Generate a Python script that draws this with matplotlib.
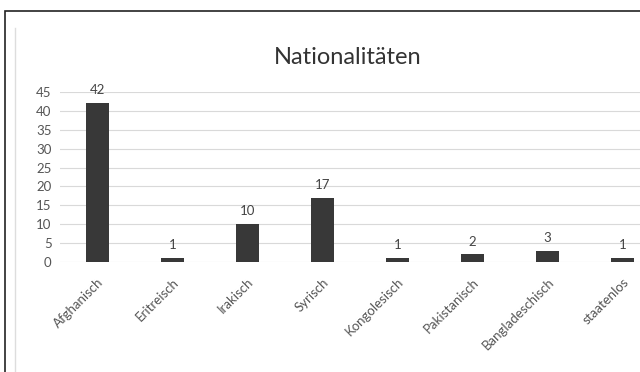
import matplotlib
matplotlib.use("Agg")
import matplotlib.pyplot as plt
from matplotlib.patches import Rectangle

categories = ["Afghanisch", "Eritreisch", "Irakisch", "Syrisch",
              "Kongolesisch", "Pakistanisch", "Bangladeschisch", "staatenlos"]
values = [42, 1, 10, 17, 1, 2, 3, 1]
yticks = [0, 5, 10, 15, 20, 25, 30, 35, 40, 45]
title = "Nationalitäten"

plt.rcParams['font.family'] = ['Lato', 'DejaVu Sans']

fig = plt.figure(figsize=(6.4, 3.72), dpi=100)
fig.patch.set_facecolor("white")

# outer frame
fig.add_artist(Rectangle((5/640, -0.1), 1.2, 1 - 11/372 + 0.1,
                         transform=fig.transFigure, fill=False,
                         edgecolor="#222222", linewidth=1.2))
fig.add_artist(plt.Line2D([15/640, 15/640], [0, 1 - 28/372],
                          transform=fig.transFigure, color="#dddddd", linewidth=1))

ax = fig.add_axes([60/640, 1 - 262/372, 600/640, (262 - 92)/372])
x = list(range(len(categories)))
bars = ax.bar(x, values, width=0.3, color="#383838", zorder=3)
ax.set_xlim(-0.5, len(categories) - 0.5)
ax.set_ylim(0, 45)
ax.set_yticks(yticks)
ax.set_yticklabels([str(t) for t in yticks], fontsize=9.5, color="#555555")
ax.yaxis.grid(True, color="#d9d9d9", linewidth=0.8, zorder=0)
ax.set_axisbelow(True)
for s in ax.spines.values():
    s.set_visible(False)
ax.tick_params(axis="both", length=0, pad=6)
ax.set_xticks(x)
ax.set_xticklabels(categories, rotation=45, ha="right", va="top",
                   rotation_mode="anchor", fontsize=9.5, color="#555555")
ax.tick_params(axis="x", pad=10)

for xi, v in zip(x, values):
    ax.annotate(str(v), (xi, v), xytext=(0, 5), textcoords="offset points",
                ha="center", va="bottom", fontsize=9.5, color="#444444")

fig.text(348/640, 1 - 57/372, title, ha="center", va="center",
         fontsize=17, color="#333333")

fig.savefig("out.png", dpi=100, facecolor="white")
